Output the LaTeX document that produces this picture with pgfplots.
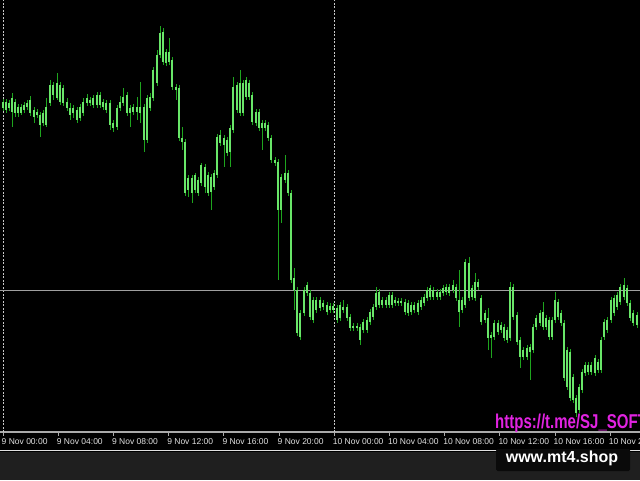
\documentclass[border=0pt]{standalone}
\usepackage{fontspec}
\setmainfont{Liberation Sans}
\usepackage{pgfplots}
\usepackage{pgfplotstable}
\pgfplotsset{compat=1.18}
\definecolor{wick}{RGB}{30,165,30}
\definecolor{bodyout}{RGB}{30,175,30}
\definecolor{bodyin}{RGB}{105,230,105}
\definecolor{sep}{RGB}{200,200,200}
\definecolor{hline}{RGB}{160,160,160}
\definecolor{axgray}{RGB}{170,170,170}
\definecolor{lblgray}{RGB}{225,225,225}
\definecolor{bottomgray}{RGB}{31,31,31}
\definecolor{tgmag}{RGB}{225,35,225}

\pgfplotstableread{
x bt bb wt wb
3 102 108 99 111
6 102 110 99 113
9 103 108 100 111
12 98 112 93 127
15 102 113 99 117
18 107 113 104 117
21 107 113 104 115
24 105 110 102 113
27 103 107 100 110
30 100 113 96 116
34 110 117 107 123
37 112 115 109 118
40 115 125 112 137
43 113 123 110 126
46 107 125 98 127
50 85 103 80 106
53 85 95 82 100
57 83 98 73 100
60 85 102 82 105
63 88 103 85 106
67 102 108 98 111
70 108 115 103 120
73 108 113 105 118
77 110 120 107 123
80 107 118 104 121
83 102 113 98 116
87 98 103 94 106
90 100 103 97 106
93 98 105 95 108
97 95 105 92 108
100 95 105 92 108
103 102 107 99 110
106 103 110 100 113
110 103 125 100 130
113 123 128 120 132
117 108 127 105 130
120 102 108 96 111
123 97 103 88 106
127 95 113 92 116
130 108 113 105 127
133 107 112 104 115
137 107 112 97 120
140 107 113 82 123
144 107 140 104 152
147 98 140 95 143
150 97 108 93 111
153 70 98 67 101
157 55 83 50 86
160 33 55 26 58
163 32 62 28 65
166 52 63 49 66
169 52 62 38 65
172 60 87 57 90
176 87 90 84 100
179 88 138 85 141
182 138 142 127 150
185 142 193 139 196
188 178 190 175 197
192 178 193 175 203
195 175 190 173 193
198 180 193 177 196
201 165 183 163 186
205 167 187 164 193
208 175 193 172 196
211 177 192 174 210
214 173 187 170 190
217 137 175 134 178
220 135 143 130 146
224 138 145 135 167
227 140 153 137 156
230 128 152 125 167
233 87 130 77 133
237 85 110 82 113
240 83 113 70 116
243 83 113 80 116
246 80 97 77 100
249 83 97 80 100
252 95 122 92 125
256 112 123 109 126
259 112 128 109 131
262 123 128 120 150
265 123 128 120 131
268 125 138 122 141
271 138 160 135 163
275 160 163 157 166
278 162 210 159 280
281 177 210 174 223
285 173 180 155 183
288 173 193 170 196
291 193 280 190 283
294 278 290 268 310
297 290 333 287 336
300 313 337 310 340
304 290 313 287 316
307 285 293 282 296
310 293 317 290 320
313 300 320 297 323
316 300 310 297 313
320 300 308 297 311
323 303 307 300 310
327 305 312 302 315
330 306 310 303 313
333 306 310 303 313
337 308 320 305 323
340 305 318 302 321
343 307 310 300 313
347 307 318 304 321
350 317 328 314 331
353 326 328 323 331
357 326 328 323 331
360 327 340 324 345
363 322 330 319 333
367 320 330 317 333
370 312 322 309 325
373 307 317 304 320
376 293 307 287 310
379 292 305 289 308
382 300 305 297 308
386 300 305 297 308
389 295 305 292 308
392 295 305 292 308
395 300 303 297 306
398 301 303 298 306
401 301 303 298 306
405 302 312 299 315
408 303 313 300 316
411 305 312 302 315
414 305 310 302 313
418 303 312 300 315
421 300 307 297 310
424 297 303 294 306
427 290 298 287 301
430 288 297 285 300
433 290 297 287 300
437 292 297 289 300
440 292 297 289 300
443 288 293 285 296
446 287 292 284 295
449 287 293 284 296
453 285 290 280 293
456 287 298 284 301
459 300 312 270 327
462 300 310 297 313
465 262 305 259 308
469 263 298 257 301
472 288 297 285 300
475 282 298 273 301
478 282 287 279 290
481 298 322 295 325
485 313 320 310 323
488 318 338 308 350
491 335 338 332 358
494 323 337 320 340
498 323 332 320 335
501 325 330 322 333
504 327 338 324 341
507 330 340 327 343
510 287 338 282 341
513 287 317 284 320
517 315 342 312 345
520 340 357 337 368
523 350 357 347 360
527 348 357 345 360
530 347 352 344 380
533 327 350 324 353
536 318 327 315 330
540 313 323 310 326
543 312 327 302 330
546 318 327 315 330
549 320 337 317 340
552 320 337 317 340
555 300 320 292 323
558 302 317 299 320
561 313 323 310 326
564 323 378 320 381
567 350 387 347 390
570 352 398 349 401
573 377 400 374 403
576 398 413 395 417
579 387 410 384 413
582 372 390 369 393
585 365 373 362 376
588 365 372 362 375
591 365 372 362 375
595 358 373 355 376
598 362 370 359 373
601 340 370 337 373
604 322 337 319 340
607 320 330 317 333
611 300 320 297 323
614 298 313 295 316
617 295 307 292 310
620 287 302 284 305
624 285 297 278 300
627 288 303 285 306
630 303 318 300 321
633 313 323 310 326
637 315 325 312 328
}\candles

\begin{document}
\begin{tikzpicture}
\useasboundingbox (0,0) rectangle (640pt,480pt);
\fill[black] (0,0) rectangle (640pt,480pt);
\fill[bottomgray] (0,0) rectangle (640pt,28pt);
\draw[white!88!black, line width=1.6pt] (0,29.5pt) -- (640pt,29.5pt);
\begin{axis}[
  at={(0pt,48pt)}, anchor=south west,
  scale only axis, width=640pt, height=432pt,
  xmin=0, xmax=640, ymin=48, ymax=480,
  axis y line=none, axis x line=bottom,
  x axis line style={draw=axgray, line width=1.3pt, -},
  xtick={3,58.2,113.4,168.6,223.8,279,334.2,389.4,444.6,499.8,555,610.2},
  xticklabels={9 Nov 00:00,9 Nov 04:00,9 Nov 08:00,9 Nov 12:00,9 Nov 16:00,9 Nov 20:00,10 Nov 00:00,10 Nov 04:00,10 Nov 08:00,10 Nov 12:00,10 Nov 16:00,10 Nov 20:00},
  ytick=\empty,
  tick align=outside, major tick length=3.5pt,
  xtick style={draw=axgray, line width=0.8pt},
  xticklabel style={anchor=north west, xshift=-1.5pt, inner xsep=0pt, font=\fontsize{8.5}{10}\selectfont, text=lblgray},
]
\draw[sep, line width=1pt, dash pattern=on 2pt off 1.5pt] (axis cs:3,48) -- (axis cs:3,480);
\draw[sep, line width=1pt, dash pattern=on 2pt off 1.5pt] (axis cs:334.2,48) -- (axis cs:334.2,480);
\draw[hline, line width=1pt] (axis cs:0,190) -- (axis cs:640,190);
\addplot[draw=none, mark=none, forget plot,
  error bars/.cd, y dir=both, y explicit, error mark=none,
  error bar style={draw=wick, line width=1pt, solid}]
  table[x=x, y expr={480-(\thisrow{wt}+\thisrow{wb})/2}, y error expr={(\thisrow{wb}-\thisrow{wt})/2}] {\candles};
\addplot[draw=none, mark=none, forget plot,
  error bars/.cd, y dir=both, y explicit, error mark=none,
  error bar style={draw=bodyout, line width=2.9pt, solid}]
  table[x=x, y expr={480-(\thisrow{bt}+\thisrow{bb})/2}, y error expr={(\thisrow{bb}-\thisrow{bt})/2}] {\candles};
\addplot[draw=none, mark=none, forget plot,
  error bars/.cd, y dir=both, y explicit, error mark=none,
  error bar style={draw=bodyin, line width=1.3pt, solid}]
  table[x=x, y expr={480-(\thisrow{bt}+\thisrow{bb})/2}, y error expr={(\thisrow{bb}-\thisrow{bt})/2}] {\candles};
\end{axis}
\node[anchor=base west, inner sep=0pt, text=tgmag, font=\bfseries\fontsize{20}{22}\selectfont] at (495pt,52pt) {\scalebox{0.75}[1]{https://t.me/SJ\_SOFT}};
\fill[black!96!white, rounded corners=1.5pt] (496pt,9pt) rectangle (630pt,31pt);
\node[anchor=base, inner sep=0pt, text=white, font=\bfseries\fontsize{16}{18}\selectfont] at (562pt,18pt) {www.mt4.shop};
\end{tikzpicture}
\end{document}
